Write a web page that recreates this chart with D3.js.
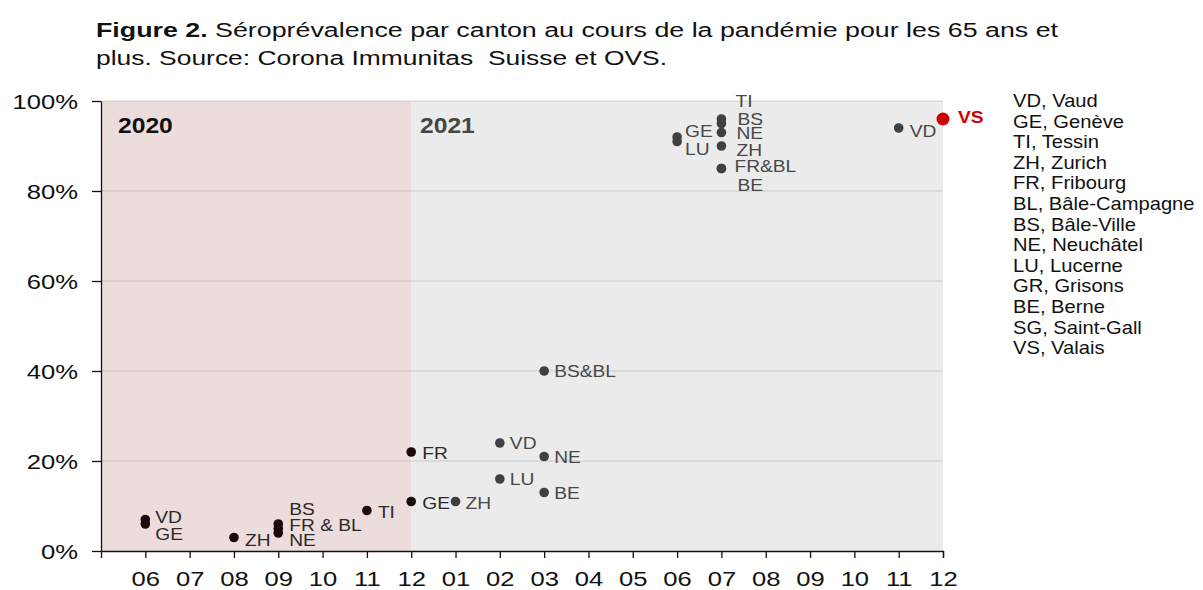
<!DOCTYPE html>
<html>
<head>
<meta charset="utf-8">
<script src="https://cdn.jsdelivr.net/npm/d3@7"></script>
<style>
  body { margin: 0; background: #fff; }
  svg { display: block; font-family: "Liberation Sans", Arial, sans-serif; }
</style>
</head>
<body>
<svg width="1203" height="590"></svg>
<script>
// x positions: one slot per month, May 2020 .. Dec 2021
const periodKeys = ["2020-05","2020-06","2020-07","2020-08","2020-09","2020-10","2020-11","2020-12",
                    "2021-01","2021-02","2021-03","2021-04","2021-05","2021-06","2021-07","2021-08",
                    "2021-09","2021-10","2021-11","2021-12"];
const periodLabels = periodKeys.map(k => k.slice(5));
const yTicks = [0, 0.2, 0.4, 0.6, 0.8, 1.0];

// survey points (seroprevalence in %)
const pointCanton = ["VD","GE","ZH","BS","FR & BL","NE","TI","FR","GE",
                     "ZH","VD","LU","NE","BE","BS&BL","GE","LU","TI","BS","NE","ZH","FR&BL","BE","VD","VS"];
const pointPeriod = ["2020-06","2020-06","2020-08","2020-09","2020-09","2020-09","2020-11","2020-12","2020-12",
                     "2021-01","2021-02","2021-02","2021-03","2021-03","2021-03","2021-06","2021-06",
                     "2021-07","2021-07","2021-07","2021-07","2021-07","2021-07","2021-11","2021-12"];
const pointValue = [7, 6, 3, 6, 5, 4, 9, 22, 11,
                    11, 24, 16, 21, 13, 40, 92, 91, 96, 95, 93, 90, 85, 85, 94, 96];

// label offsets (dx, dy from the dot) so overlapping labels stay readable
const labelNudge = [[10,3.5],[10,16],[11,8],[11,-9.5],[11,2],[11,13],[11,7],[11,7],[11,7],
                    [10,7],[10,6],[10,6],[10,6.5],[10,6],[10,6],[8,0],[8,13.5],
                    [14,-12.5],[16,1.5],[15,6],[15,9.5],[13,3.5],[16,22.5],[11,9],[15,4]];

const legendLines = ["VD, Vaud","GE, Genève","TI, Tessin","ZH, Zurich","FR, Fribourg","BL, Bâle-Campagne",
                     "BS, Bâle-Ville","NE, Neuchâtel","LU, Lucerne","GR, Grisons","BE, Berne",
                     "SG, Saint-Gall","VS, Valais"];

const svg = d3.select("svg");
const plot = { left: 101, right: 943, top: 101, bottom: 551 };

const x = d3.scaleLinear().domain([0, periodKeys.length - 1]).range([plot.left, plot.right]);
const y = d3.scaleLinear().domain([0, 1]).range([plot.bottom, plot.top]);
const xOf = key => x(periodKeys.indexOf(key));

// text is horizontally stretched in the original figure
function addText(parent, px, py, str, sx) {
    return parent.append("text")
        .attr("transform", `translate(${px},${py}) scale(${sx},1)`)
        .text(str);
}

// title
const title = svg.append("g").style("font-size", "19.5px").style("fill", "#111");
const t1 = title.append("text").attr("x", 96).attr("y", 37)
    .attr("textLength", 962).attr("lengthAdjust", "spacingAndGlyphs");
t1.append("tspan").style("font-weight", "bold").text("Figure 2.");
t1.append("tspan").text(" Séroprévalence par canton au cours de la pandémie pour les 65 ans et");
title.append("text").attr("x", 96).attr("y", 65)
    .attr("textLength", 571).attr("lengthAdjust", "spacingAndGlyphs")
    .style("white-space", "pre")
    .text("plus. Source: Corona Immunitas  Suisse et OVS.");

// year backgrounds
const split = xOf("2020-12");
svg.append("rect").attr("x", plot.left).attr("y", plot.top)
    .attr("width", split - plot.left).attr("height", plot.bottom - plot.top)
    .attr("fill", "#eddcdc");
svg.append("rect").attr("x", split).attr("y", plot.top)
    .attr("width", plot.right - split).attr("height", plot.bottom - plot.top)
    .attr("fill", "#ebebeb");

// gridlines
svg.append("g").selectAll("line")
    .data(yTicks.slice(1))
    .enter().append("line")
    .attr("x1", plot.left).attr("x2", plot.right)
    .attr("y1", d => y(d)).attr("y2", d => y(d))
    .attr("stroke", "#000").attr("stroke-opacity", 0.14).attr("stroke-width", 1.2);

// year labels
const years = svg.append("g").style("font-size", "22px").style("font-weight", "bold");
addText(years, 118, 133, "2020", 1.12).style("fill", "#111");
addText(years, 420, 133, "2021", 1.12).style("fill", "#454545");

// axes
const xAxis = svg.append("g")
    .attr("transform", `translate(0,${plot.bottom})`)
    .call(d3.axisBottom(x)
        .tickValues(d3.range(1, periodKeys.length))
        .tickFormat(i => periodLabels[i])
        .tickSize(7).tickSizeOuter(7));
xAxis.selectAll("text")
    .attr("y", null).attr("dy", null)
    .attr("transform", "translate(0,35) scale(1.22,1)")
    .style("font-size", "21px").style("fill", "#111")
    .style("font-family", "Liberation Sans, Arial, sans-serif");

const yAxis = svg.append("g")
    .attr("transform", `translate(${plot.left},0)`)
    .call(d3.axisLeft(y).tickValues(yTicks).tickFormat(d3.format(".0%"))
        .tickSize(9).tickSizeOuter(0));
yAxis.selectAll("text")
    .attr("x", null).attr("dy", null)
    .attr("transform", "translate(-23,7.5) scale(1.22,1)")
    .style("font-size", "21px").style("fill", "#111")
    .style("font-family", "Liberation Sans, Arial, sans-serif");
svg.selectAll(".domain, .tick line").attr("stroke", "#111").attr("stroke-width", 1.3);

// points
const pts = pointCanton.map((c, i) => ({
    canton: c, period: pointPeriod[i], value: pointValue[i] / 100,
    year: pointPeriod[i].slice(0, 4), nudge: labelNudge[i]
}));
const dotColor = d => d.canton === "VS" ? "#cc0000" : (d.year === "2020" ? "#1c0a0a" : "#404040");
const textColor = d => d.canton === "VS" ? "#cc0000" : (d.year === "2020" ? "#2a2a2a" : "#484848");

const marks = svg.append("g");
marks.selectAll("circle")
    .data(pts)
    .enter().append("circle")
    .attr("cx", d => xOf(d.period))
    .attr("cy", d => y(d.value))
    .attr("r", d => d.canton === "VS" ? 6.5 : 4.8)
    .attr("fill", dotColor);

const labels = svg.append("g").style("font-size", "16px");
pts.forEach(d => {
    addText(labels, xOf(d.period) + d.nudge[0], y(d.value) + d.nudge[1], d.canton, 1.2)
        .style("fill", textColor(d))
        .style("font-weight", d.canton === "VS" ? "bold" : null)
        .style("white-space", "pre");
});

// canton legend
const legend = svg.append("g").style("font-size", "18px").style("fill", "#111");
legendLines.forEach((s, i) => {
    addText(legend, 1013, 107 + i * 20.6, s, 1.12);
});
</script>
</body>
</html>
